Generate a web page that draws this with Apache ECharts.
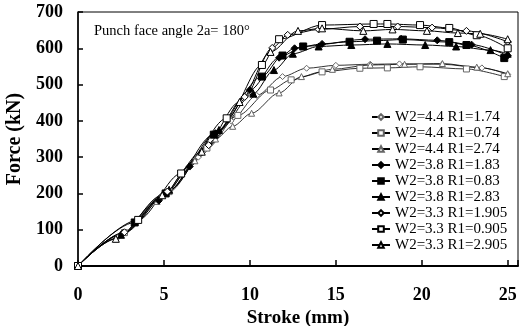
<!DOCTYPE html>
<html>
<head>
<meta charset="utf-8">
<script src="https://cdn.jsdelivr.net/npm/echarts@6/dist/echarts.min.js"></script>
<style>
  html, body { margin: 0; padding: 0; background: #fff; }
  #vis { width: 522px; height: 326px; }
</style>
</head>
<body>
<div id="vis"></div>
<script>
// series names
const names = [
  'W2=4.4 R1=1.74', 'W2=4.4 R1=0.74', 'W2=4.4 R1=2.74',
  'W2=3.8 R1=1.83', 'W2=3.8 R1=0.83', 'W2=3.8 R1=2.83',
  'W2=3.3 R1=1.905', 'W2=3.3 R1=0.905', 'W2=3.3 R1=2.905'
];

// W2 = 4.4 (lower curves)
const stroke44a = [0, 2.3, 4.9, 7.0, 8.9, 10.4, 11.9, 13.3, 15.0, 17.0, 18.7, 21.2, 23.5, 25.0];
const force44a  = [0, 78, 192, 300, 400, 470, 522, 545, 553, 556, 557, 556, 546, 528];
const stroke44b = [0, 2.7, 5.3, 7.5, 9.3, 11.2, 12.4, 14.2, 16.4, 18.0, 19.9, 22.6, 24.8];
const force44b  = [0, 92, 205, 325, 415, 485, 513, 535, 545, 546, 549, 543, 522];
const stroke44c = [0, 2.2, 4.6, 6.8, 8.0, 9.0, 10.1, 11.7, 13.0, 14.8, 17.0, 19.0, 21.2, 23.2, 25.0];
const force44c  = [0, 75, 178, 290, 350, 385, 421, 477, 522, 542, 554, 556, 558, 548, 530];

// W2 = 3.8 (filled markers)
const stroke38a = [0, 2.6, 4.7, 6.5, 8.0, 10.0, 11.7, 12.6, 14.2, 16.7, 18.8, 20.9, 22.9, 25.0];
const force38a  = [0, 90, 180, 274, 366, 485, 574, 600, 612, 625, 626, 622, 610, 580];
const stroke38b = [0, 3.3, 5.1, 7.9, 10.7, 11.9, 13.1, 15.8, 17.4, 18.9, 21.6, 22.6, 24.8];
const force38b  = [0, 120, 200, 362, 522, 580, 605, 618, 621, 624, 617, 609, 573];
const stroke38c = [0, 2.5, 5.3, 8.2, 10.2, 11.4, 12.5, 14.0, 15.9, 18.0, 20.2, 22.0, 24.0, 25.0];
const force38c  = [0, 86, 210, 375, 475, 540, 585, 605, 609, 612, 609, 605, 595, 585];

// W2 = 3.3 (upper curves)
const stroke33a = [0, 2.7, 5.2, 7.6, 9.7, 11.3, 12.2, 14.0, 16.4, 18.6, 20.6, 22.6, 25.0];
const force33a  = [0, 93, 205, 333, 466, 601, 637, 652, 660, 660, 657, 648, 618];
const stroke33b = [0, 3.5, 6.0, 8.65, 10.7, 11.7, 14.2, 17.2, 18.0, 19.9, 21.6, 23.2, 25.0];
const force33b  = [0, 127, 255, 407, 554, 625, 664, 667, 667, 664, 656, 636, 600];
const stroke33c = [0, 2.2, 4.9, 7.2, 9.4, 11.2, 12.8, 14.2, 16.6, 18.3, 20.3, 22.1, 23.4, 25.0];
const force33c  = [0, 75, 195, 315, 452, 590, 648, 655, 648, 652, 648, 642, 640, 625];

const strokeSets = [stroke44a, stroke44b, stroke44c, stroke38a, stroke38b, stroke38c, stroke33a, stroke33b, stroke33c];
const forceSets  = [force44a, force44b, force44c, force38a, force38b, force38c, force33a, force33b, force33c];

const symbols = ['diamond', 'rect', 'triangle'];

const serif = '"Liberation Serif", "DejaVu Serif", serif';

const chart = echarts.init(document.getElementById('vis'), null, { renderer: 'canvas' });

const series = names.map((name, i) => {
  const group = Math.floor(i / 3);   // 0: 4.4, 1: 3.8, 2: 3.3
  const filled = group === 1;
  const light = group === 0;
  return {
    name,
    type: 'line',
    smooth: 0.3,
    smoothMonotone: 'x',
    symbol: symbols[i % 3],
    symbolSize: light ? 6 : 7,
    showAllSymbol: true,
    data: strokeSets[i].map((x, k) => [x, forceSets[i][k]]),
    lineStyle: { color: '#000', width: light ? 0.8 : 1 },
    itemStyle: {
      color: filled ? '#000' : '#fff',
      borderColor: light ? '#666' : '#000',
      borderWidth: 1
    },
    emphasis: { disabled: true },
    animation: false
  };
});

chart.setOption({
  animation: false,
  title: {
    text: 'Punch face angle 2a= 180°',
    left: 89,
    top: 19,
    textStyle: { fontFamily: serif, fontWeight: 'normal', fontSize: 14.5, color: '#000' }
  },
  legend: {
    orient: 'vertical',
    left: 366,
    top: 104,
    itemGap: 0,
    itemWidth: 18,
    itemHeight: 7,
    data: names,
    textStyle: { fontFamily: serif, fontSize: 15, color: '#000', lineHeight: 16 }
  },
  grid: {
    left: 78, right: 4, top: 12, bottom: 60,
    outerBoundsMode: 'none',
    containLabel: false,
    show: true, borderColor: '#000', borderWidth: 1
  },
  xAxis: {
    type: 'value',
    min: 0,
    max: 25.6,
    interval: 5,
    name: 'Stroke (mm)',
    nameLocation: 'middle',
    nameGap: 38,
    nameTextStyle: { fontFamily: serif, fontWeight: 'bold', fontSize: 19, color: '#000' },
    axisLine: { lineStyle: { color: '#000', width: 2 } },
    axisTick: { inside: true, length: 6, lineStyle: { color: '#000', width: 1.5 } },
    axisLabel: {
      margin: 20,
      fontFamily: serif, fontWeight: 'bold', fontSize: 18, color: '#000',
      formatter: v => (v % 5 === 0 ? String(v) : '')
    },
    splitLine: { show: false }
  },
  yAxis: {
    type: 'value',
    min: 0,
    max: 700,
    interval: 100,
    name: 'Force (kN)',
    nameLocation: 'middle',
    nameGap: 49,
    nameTextStyle: { fontFamily: serif, fontWeight: 'bold', fontSize: 20, color: '#000' },
    axisLine: { show: true, lineStyle: { color: '#000', width: 1.5 } },
    axisTick: { show: true, inside: true, length: 5, lineStyle: { color: '#000', width: 1.5 } },
    axisLabel: { margin: 15, fontFamily: serif, fontWeight: 'bold', fontSize: 18, color: '#000' },
    splitLine: { show: false }
  },
  series
});
</script>
</body>
</html>
